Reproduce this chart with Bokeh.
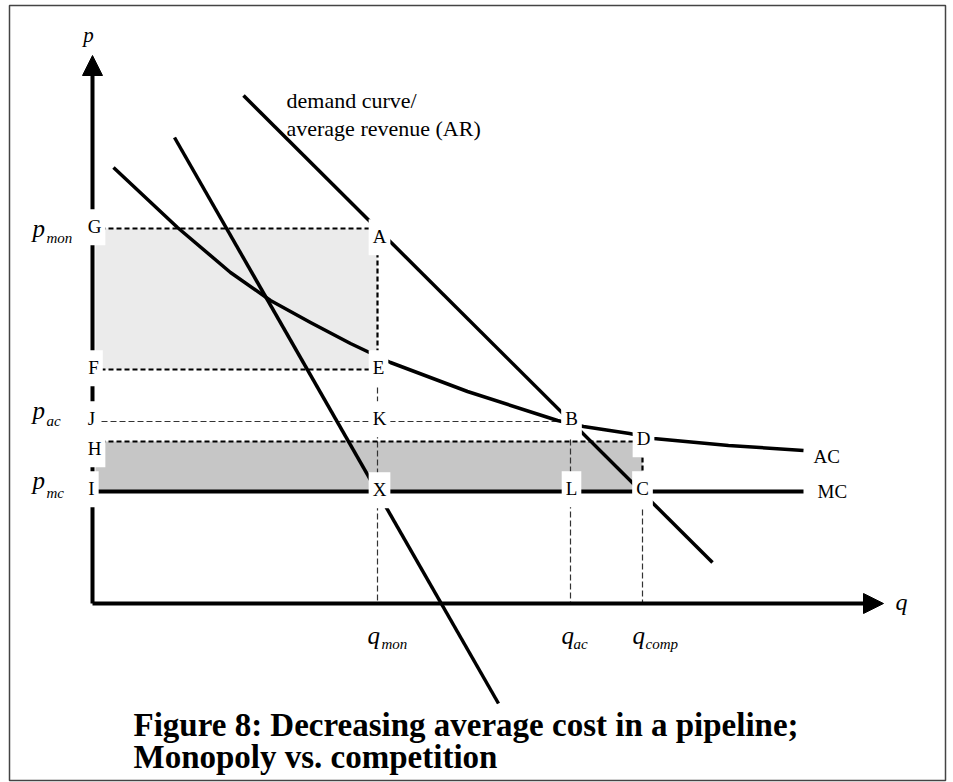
from bokeh.plotting import figure
from bokeh.models import Range1d, Label, Arrow, NormalHead
from bokeh.embed import file_html
from bokeh.resources import INLINE

# ---- economic values (q, p units) ----
q_mon = 28.5
q_ac = 47.8
q_comp = 55.0
p_mon = 37.5
p_e = 23.4
p_ac = 18.2
p_d = 16.2
p_mc = 11.2

demand_q = [15.1, 62.0]
demand_p = [50.8, 4.1]
mr_q = [8.2, 40.6]
mr_p = [46.6, -10.0]
ac_q = [2.1, 8.5, 13.8, 17.8, 21.8, 25.8, 29.8, 37.5, 46.5, 49.1, 53.7, 56.1, 63.6, 71.1]
ac_p = [43.6, 37.6, 33.1, 30.3, 28.1, 26.0, 24.1, 21.2, 18.3, 17.7, 17.0, 16.5, 15.8, 15.3]
mc_q = [0.0, 71.1]
axis_q_max = 79.1
axis_p_max = 54.8

point_labels = ["G", "A", "F", "E", "J", "K", "B", "H", "D", "I", "X", "L", "C"]

# page-pixel helpers for text placement
X0, Y0, S = 92.0, 603.0, 10.0
def qx(px):
    return (px - X0) / S
def py(py_):
    return (Y0 - py_) / S

W, H = 953, 782
BL, BR, BT, BB = 9, 945, 5, 780   # frame border in page pixels
p = figure(width=W, height=H, output_backend="svg", toolbar_location=None,
           x_range=Range1d(qx(BL), qx(BR)), y_range=Range1d(py(BB), py(BT)),
           x_axis_location=None, y_axis_location=None,
           min_border_left=BL, min_border_right=W - BR,
           min_border_top=BT, min_border_bottom=H - BB)
p.grid.visible = False
p.background_fill_color = "white"
p.border_fill_color = "white"
p.outline_line_color = "#444444"
p.outline_line_width = 1.5

# shaded areas
p.quad(left=[0.3], right=[q_mon], bottom=[p_e], top=[p_mon],
       fill_color="#ebebeb", line_color=None)
p.quad(left=[0.3], right=[q_comp], bottom=[p_mc], top=[p_d],
       fill_color="#c6c6c6", line_color=None)

thick = dict(line_color="black", line_width=2.2, line_dash="5 3")
thin = dict(line_color="#333333", line_width=1.2, line_dash="6 3")

# dashed guides
p.line([0, q_mon], [p_mon, p_mon], **thick)
p.line([0, q_mon], [p_e, p_e], **thick)
p.line([q_mon, q_mon], [p_mon, p_e], **thick)
p.line([q_mon, q_mon], [p_e, 0], **thin)
p.line([0, q_ac], [p_ac, p_ac], **thin)
p.line([0, q_comp], [p_d, p_d], **thick)
p.line([q_ac, q_ac], [p_ac, 0], **thin)
p.line([q_comp, q_comp], [p_d, p_mc], **thick)
p.line([q_comp, q_comp], [p_mc, 0], **thin)

# curves
p.line(demand_q, demand_p, line_color="black", line_width=3.5)
p.line(mr_q, mr_p, line_color="black", line_width=3.5)
p.line(ac_q, ac_p, line_color="black", line_width=3.5, line_join="round")
p.line(mc_q, [p_mc, p_mc], line_color="black", line_width=4)

# axes with arrow heads
p.add_layout(Arrow(end=NormalHead(size=20, fill_color="black", line_color="black"),
                   x_start=0, y_start=0, x_end=0, y_end=axis_p_max,
                   line_width=4, line_color="black"))
p.add_layout(Arrow(end=NormalHead(size=20, fill_color="black", line_color="black"),
                   x_start=0, y_start=0, x_end=axis_q_max, y_end=0,
                   line_width=4, line_color="black"))

FONT = "Liberation Serif"
CORR = 0.33  # baseline correction (em)

def lab(text, x, y, size, align="center", style="normal", bg=False):
    kw = dict(x=qx(x), y=py(y - CORR * size), text=text, text_font=FONT,
              text_font_size=f"{size}px", text_align=align,
              text_baseline="alphabetic", text_font_style=style,
              text_color="black")
    if bg:
        kw.update(background_fill_color="white",
                  padding=dict(left=4, right=4, top=7, bottom=8))
    p.add_layout(Label(**kw))

# point labels (centre x, baseline y in page pixels)
pos = {"G": (94, 233), "A": (379, 243), "F": (93, 374), "E": (378, 374),
       "J": (91, 425), "K": (379, 425), "B": (571, 425), "H": (94, 455),
       "D": (643, 445), "I": (91, 495), "X": (379, 496), "L": (571, 495),
       "C": (642, 495)}
for t in point_labels:
    x, y = pos[t]
    lab(t, x, y, 19, bg=True)

lab("AC", 813, 462, 19, align="left")
lab("MC", 817, 497, 19, align="left")

# axis titles
lab("p", 88, 41, 21, style="italic")
lab("q", 895, 609, 24, align="left", style="italic")

# price labels
lab("p", 32, 236, 25, align="left", style="italic")
lab("mon", 46, 242, 15, align="left", style="italic")
lab("p", 32, 418, 25, align="left", style="italic")
lab("ac", 46, 425, 15, align="left", style="italic")
lab("p", 32, 488, 25, align="left", style="italic")
lab("mc", 46, 497, 15, align="left", style="italic")

# quantity labels
lab("q", 367, 643, 25, align="left", style="italic")
lab("mon", 381, 648, 15, align="left", style="italic")
lab("q", 561, 643, 25, align="left", style="italic")
lab("ac", 573, 648, 15, align="left", style="italic")
lab("q", 632, 643, 25, align="left", style="italic")
lab("comp", 645, 648, 15, align="left", style="italic")

# demand text
lab("demand curve/", 286, 107, 22, align="left")
lab("average revenue (AR)", 286, 135, 22, align="left")

# caption
lab("Figure 8: Decreasing average cost in a pipeline;", 133, 735, 33, align="left", style="bold")
lab("Monopoly vs. competition", 133, 767, 33, align="left", style="bold")

open("out.html", "w").write(file_html(p, INLINE))
